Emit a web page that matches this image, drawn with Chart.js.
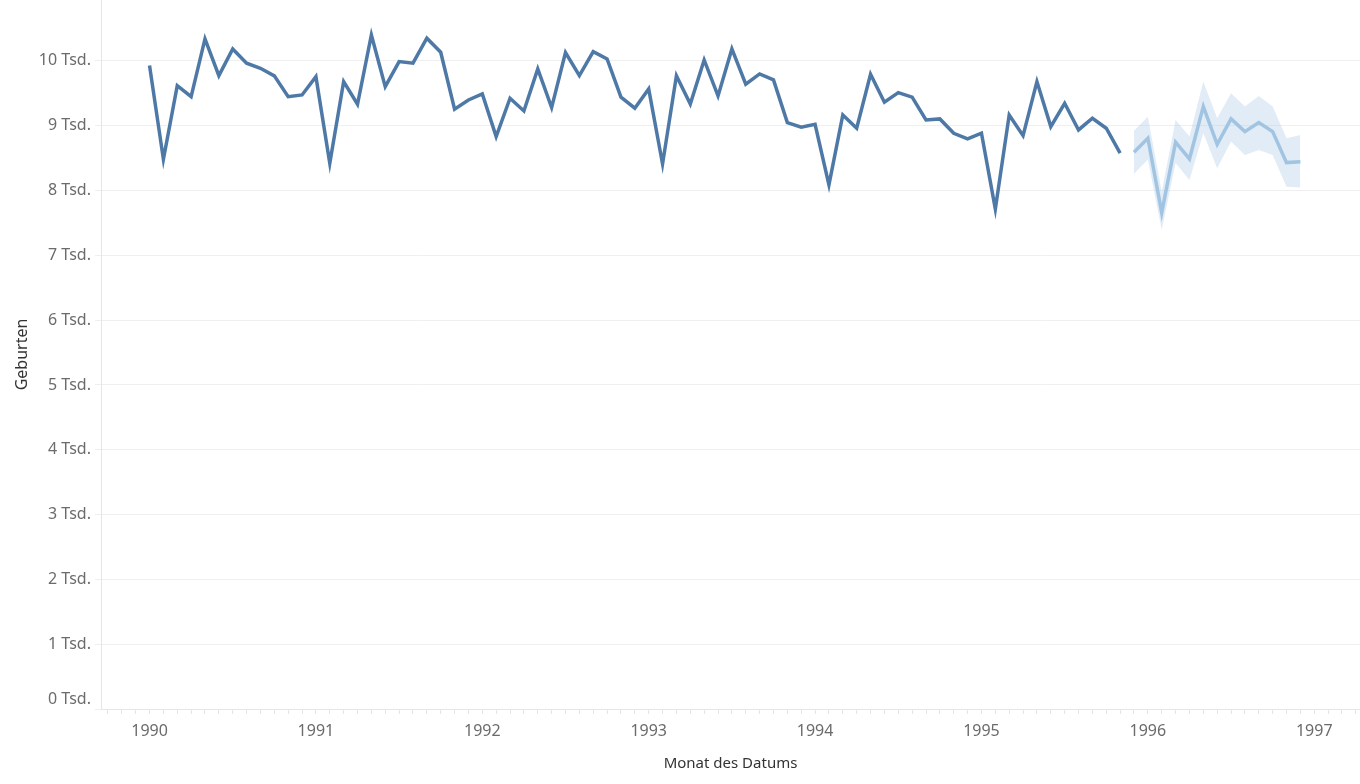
<!DOCTYPE html>
<html lang="de">
<head>
<meta charset="utf-8">
<title>Geburten</title>
<script src="https://cdn.jsdelivr.net/npm/chart.js@4/dist/chart.umd.min.js"></script>
<style>
    html, body { margin: 0; padding: 0; background: #ffffff; }
    #wrap { width: 1360px; height: 784px; position: relative; }
</style>
</head>
<body>
<div id="wrap"><canvas id="chart"></canvas></div>
<script>
// Monatsindex: 0 = Jan 1990
const startYear = 1990;
const yearTicks = [1990, 1991, 1992, 1993, 1994, 1995, 1996, 1997];
const yTicks = [0, 1000, 2000, 3000, 4000, 5000, 6000, 7000, 8000, 9000, 10000];

// Geburten Jan 1990 - Nov 1995
const births = [
    9930, 8483, 9619, 9449, 10340, 9773, 10185, 9965, 9887, 9769, 9449, 9475,
    9758, 8421, 9681, 9331, 10401, 9603, 9989, 9965, 10350, 10134, 9254, 9398,
    9491, 8832, 9424, 9228, 9877, 9280, 10128, 9773, 10144, 10031, 9440, 9270,
    9568, 8410, 9773, 9336, 10015, 9460, 10185, 9640, 9799, 9707, 9048, 8977,
    9023, 8086, 9167, 8961, 9794, 9362, 9511, 9440, 9090, 9105, 8884, 8796,
    8884, 7716, 9167, 8847, 9681, 8986, 9347, 8935, 9116, 8961, 8576
];

// Prognose Dez 1995 - Dez 1996
const forecastStart = 71;
const forecast = [8591, 8807, 7659, 8745, 8488, 9295, 8714, 9105, 8909, 9048, 8909, 8431, 8446];
const forecastUpper = [8924, 9140, 7980, 9090, 8832, 9681, 9116, 9501, 9295, 9460, 9295, 8807, 8858];
const forecastLower = [8260, 8480, 7392, 8426, 8164, 8884, 8344, 8755, 8549, 8627, 8549, 8060, 8045];

const toPoints = (values, offset) => values.map((v, i) => ({ x: offset + i, y: v }));

const tickColor = '#6b6b6b';
const gridColor = '#efefef';

const ctx = document.getElementById('chart').getContext('2d');
new Chart(ctx, {
    type: 'line',
    data: {
        datasets: [
            {
                label: 'Obere Grenze',
                data: toPoints(forecastUpper, forecastStart),
                borderWidth: 0,
                pointRadius: 0,
                backgroundColor: 'rgba(168, 200, 230, 0.35)',
                fill: '+1',
                order: 3
            },
            {
                label: 'Untere Grenze',
                data: toPoints(forecastLower, forecastStart),
                borderWidth: 0,
                pointRadius: 0,
                fill: false,
                order: 3
            },
            {
                label: 'Prognose',
                data: toPoints(forecast, forecastStart),
                borderColor: '#a0c4e2',
                borderWidth: 3.5,
                borderJoinStyle: 'miter',
                pointRadius: 0,
                fill: false,
                order: 2
            },
            {
                label: 'Geburten',
                data: toPoints(births, 0),
                borderColor: '#4e79a7',
                borderWidth: 3.5,
                borderJoinStyle: 'miter',
                pointRadius: 0,
                fill: false,
                order: 1
            }
        ]
    },
    options: {
        responsive: true,
        maintainAspectRatio: false,
        animation: false,
        layout: { padding: 0 },
        plugins: {
            legend: { display: false },
            tooltip: { enabled: false }
        },
        scales: {
            x: {
                type: 'linear',
                min: -3.5,
                max: 87.3,
                afterFit: scale => {
                    scale.height = 75;
                    scale.paddingLeft = 0;
                    scale.paddingRight = 0;
                },
                afterBuildTicks: scale => {
                    const ticks = [];
                    for (let m = -3; m <= 87; m++) ticks.push({ value: m });
                    scale.ticks = ticks;
                },
                ticks: {
                    autoSkip: false,
                    maxRotation: 0,
                    padding: 8,
                    color: tickColor,
                    font: { family: '"Noto Sans", sans-serif', size: 16 },
                    callback: value => {
                        if (value % 12 !== 0) return '';
                        const year = startYear + value / 12;
                        return yearTicks.includes(year) ? String(year) : '';
                    }
                },
                grid: {
                    drawOnChartArea: false,
                    drawTicks: true,
                    tickLength: 5,
                    color: '#e6e6e6'
                },
                border: { display: true, color: '#e6e6e6' },
                title: {
                    display: true,
                    text: 'Monat des Datums',
                    color: '#333333',
                    font: { family: '"Noto Sans", sans-serif', size: 15 },
                    padding: { top: 4, bottom: 11 }
                }
            },
            y: {
                min: 0,
                max: 10940,
                afterFit: scale => {
                    scale.width = 101;
                    scale.paddingTop = 0;
                    scale.paddingBottom = 0;
                },
                afterBuildTicks: scale => {
                    scale.ticks = yTicks.map(v => ({ value: v }));
                },
                ticks: {
                    padding: 4,
                    color: tickColor,
                    font: { family: '"Noto Sans", sans-serif', size: 16 },
                    callback: value => value === 0 ? ['0 Tsd.', ''] : (value / 1000) + ' Tsd.'
                },
                grid: {
                    color: gridColor,
                    tickLength: 6
                },
                border: { display: true, color: '#e6e6e6' },
                title: {
                    display: true,
                    text: 'Geburten',
                    color: '#333333',
                    font: { family: '"Noto Sans", sans-serif', size: 16 },
                    padding: { top: 13, bottom: 0 }
                }
            }
        }
    }
});
</script>
</body>
</html>
